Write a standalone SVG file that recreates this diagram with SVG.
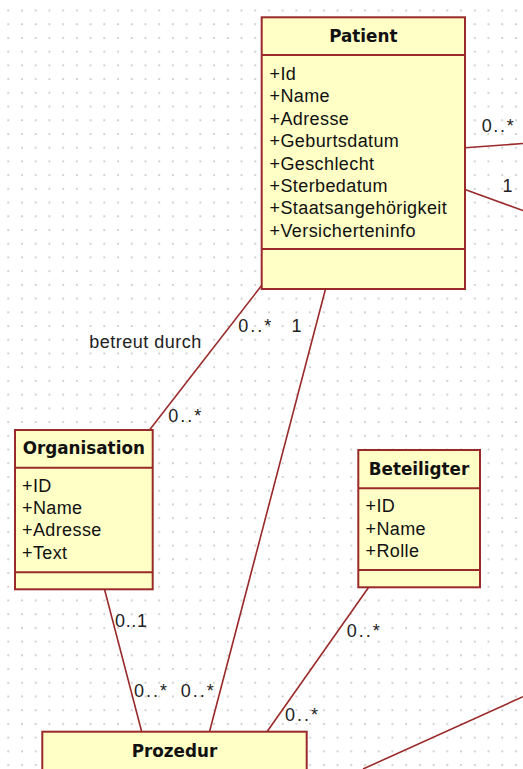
<svg xmlns="http://www.w3.org/2000/svg" width="523" height="769" viewBox="0 0 523 769">
<defs>
<pattern id="grid" x="7.3" y="9.5" width="13.72" height="13.72" patternUnits="userSpaceOnUse">
<rect x="0" y="0" width="2" height="2" fill="#d2d2d2"/>
</pattern>
<style>
.box{fill:#FFFFC6;stroke:#9A2A2A;stroke-width:2}
.sep{stroke:#9A2A2A;stroke-width:2}
.conn{stroke:#9A2A2A;stroke-width:1.6;fill:none}
.title{font-family:"DejaVu Sans",sans-serif;font-weight:bold;font-size:16.8px;fill:#111;text-anchor:middle}
.attr{font-family:"Liberation Sans",Arial,sans-serif;font-size:18px;letter-spacing:0.4px;fill:#111}
.lbl{font-family:"Liberation Sans",Arial,sans-serif;font-size:18px;fill:#222}
</style>
</defs>
<rect x="0" y="0" width="523" height="769" fill="#ffffff"/>
<rect x="0" y="0" width="523" height="769" fill="url(#grid)"/>

<g id="connectors">
<line class="conn" x1="262" y1="285" x2="149.5" y2="430"/>
<line class="conn" x1="325.5" y1="289" x2="209.5" y2="731.7"/>
<line class="conn" x1="104.5" y1="589.3" x2="141.7" y2="731.7"/>
<line class="conn" x1="368.5" y1="587.5" x2="267" y2="731.7"/>
<line class="conn" x1="465" y1="147.8" x2="523" y2="143.5"/>
<line class="conn" x1="465" y1="189.5" x2="523" y2="210.5"/>
<line class="conn" x1="523" y1="696.7" x2="363" y2="769"/>
<g class="lbl">
<text x="238.3" y="331.7" textLength="33" lengthAdjust="spacing">0..*</text>
<text x="291.5" y="331.7">1</text>
<text x="89.3" y="348.3" textLength="112" lengthAdjust="spacing">betreut durch</text>
<text x="168.3" y="421.7" textLength="33" lengthAdjust="spacing">0..*</text>
<text x="115" y="627.3" textLength="32" lengthAdjust="spacing">0..1</text>
<text x="134" y="697.3" textLength="33" lengthAdjust="spacing">0..*</text>
<text x="180.7" y="697.3" textLength="33" lengthAdjust="spacing">0..*</text>
<text x="346.7" y="636.7" textLength="33" lengthAdjust="spacing">0..*</text>
<text x="285" y="721" textLength="33" lengthAdjust="spacing">0..*</text>
<text x="481.7" y="132.3" textLength="32" lengthAdjust="spacing">0..*</text>
<text x="502.5" y="191.7">1</text>
</g>
</g>

<g id="Patient">
<rect class="box" x="261.7" y="17.3" width="203.3" height="271.7"/>
<line class="sep" x1="261.7" y1="55" x2="465" y2="55"/>
<line class="sep" x1="261.7" y1="249" x2="465" y2="249"/>
<text class="title" x="363.3" y="41.7">Patient</text>
<g class="attr">
<text x="269.5" y="80">+Id</text>
<text x="269.5" y="102.4">+Name</text>
<text x="269.5" y="124.8">+Adresse</text>
<text x="269.5" y="147.2">+Geburtsdatum</text>
<text x="269.5" y="169.6">+Geschlecht</text>
<text x="269.5" y="192">+Sterbedatum</text>
<text x="269.5" y="214.4">+Staatsangehörigkeit</text>
<text x="269.5" y="236.8">+Versicherteninfo</text>
</g>
</g>

<g id="Organisation">
<rect class="box" x="15" y="430" width="137.7" height="159.3"/>
<line class="sep" x1="15" y1="467.7" x2="152.7" y2="467.7"/>
<line class="sep" x1="15" y1="572.3" x2="152.7" y2="572.3"/>
<text class="title" x="83.8" y="454">Organisation</text>
<g class="attr">
<text x="22" y="491.7">+ID</text>
<text x="22" y="514">+Name</text>
<text x="22" y="536.4">+Adresse</text>
<text x="22" y="558.6">+Text</text>
</g>
</g>

<g id="Beteiligter">
<rect class="box" x="358.3" y="450" width="121.7" height="137.3"/>
<line class="sep" x1="358.3" y1="488.3" x2="480" y2="488.3"/>
<line class="sep" x1="358.3" y1="570" x2="480" y2="570"/>
<text class="title" x="419" y="475">Beteiligter</text>
<g class="attr">
<text x="365.5" y="512.3">+ID</text>
<text x="365.5" y="534.5">+Name</text>
<text x="365.5" y="556.7">+Rolle</text>
</g>
</g>

<g id="Prozedur">
<rect class="box" x="42.3" y="731.7" width="264.4" height="60"/>
<text class="title" x="174.5" y="756.7">Prozedur</text>
</g>
</svg>
